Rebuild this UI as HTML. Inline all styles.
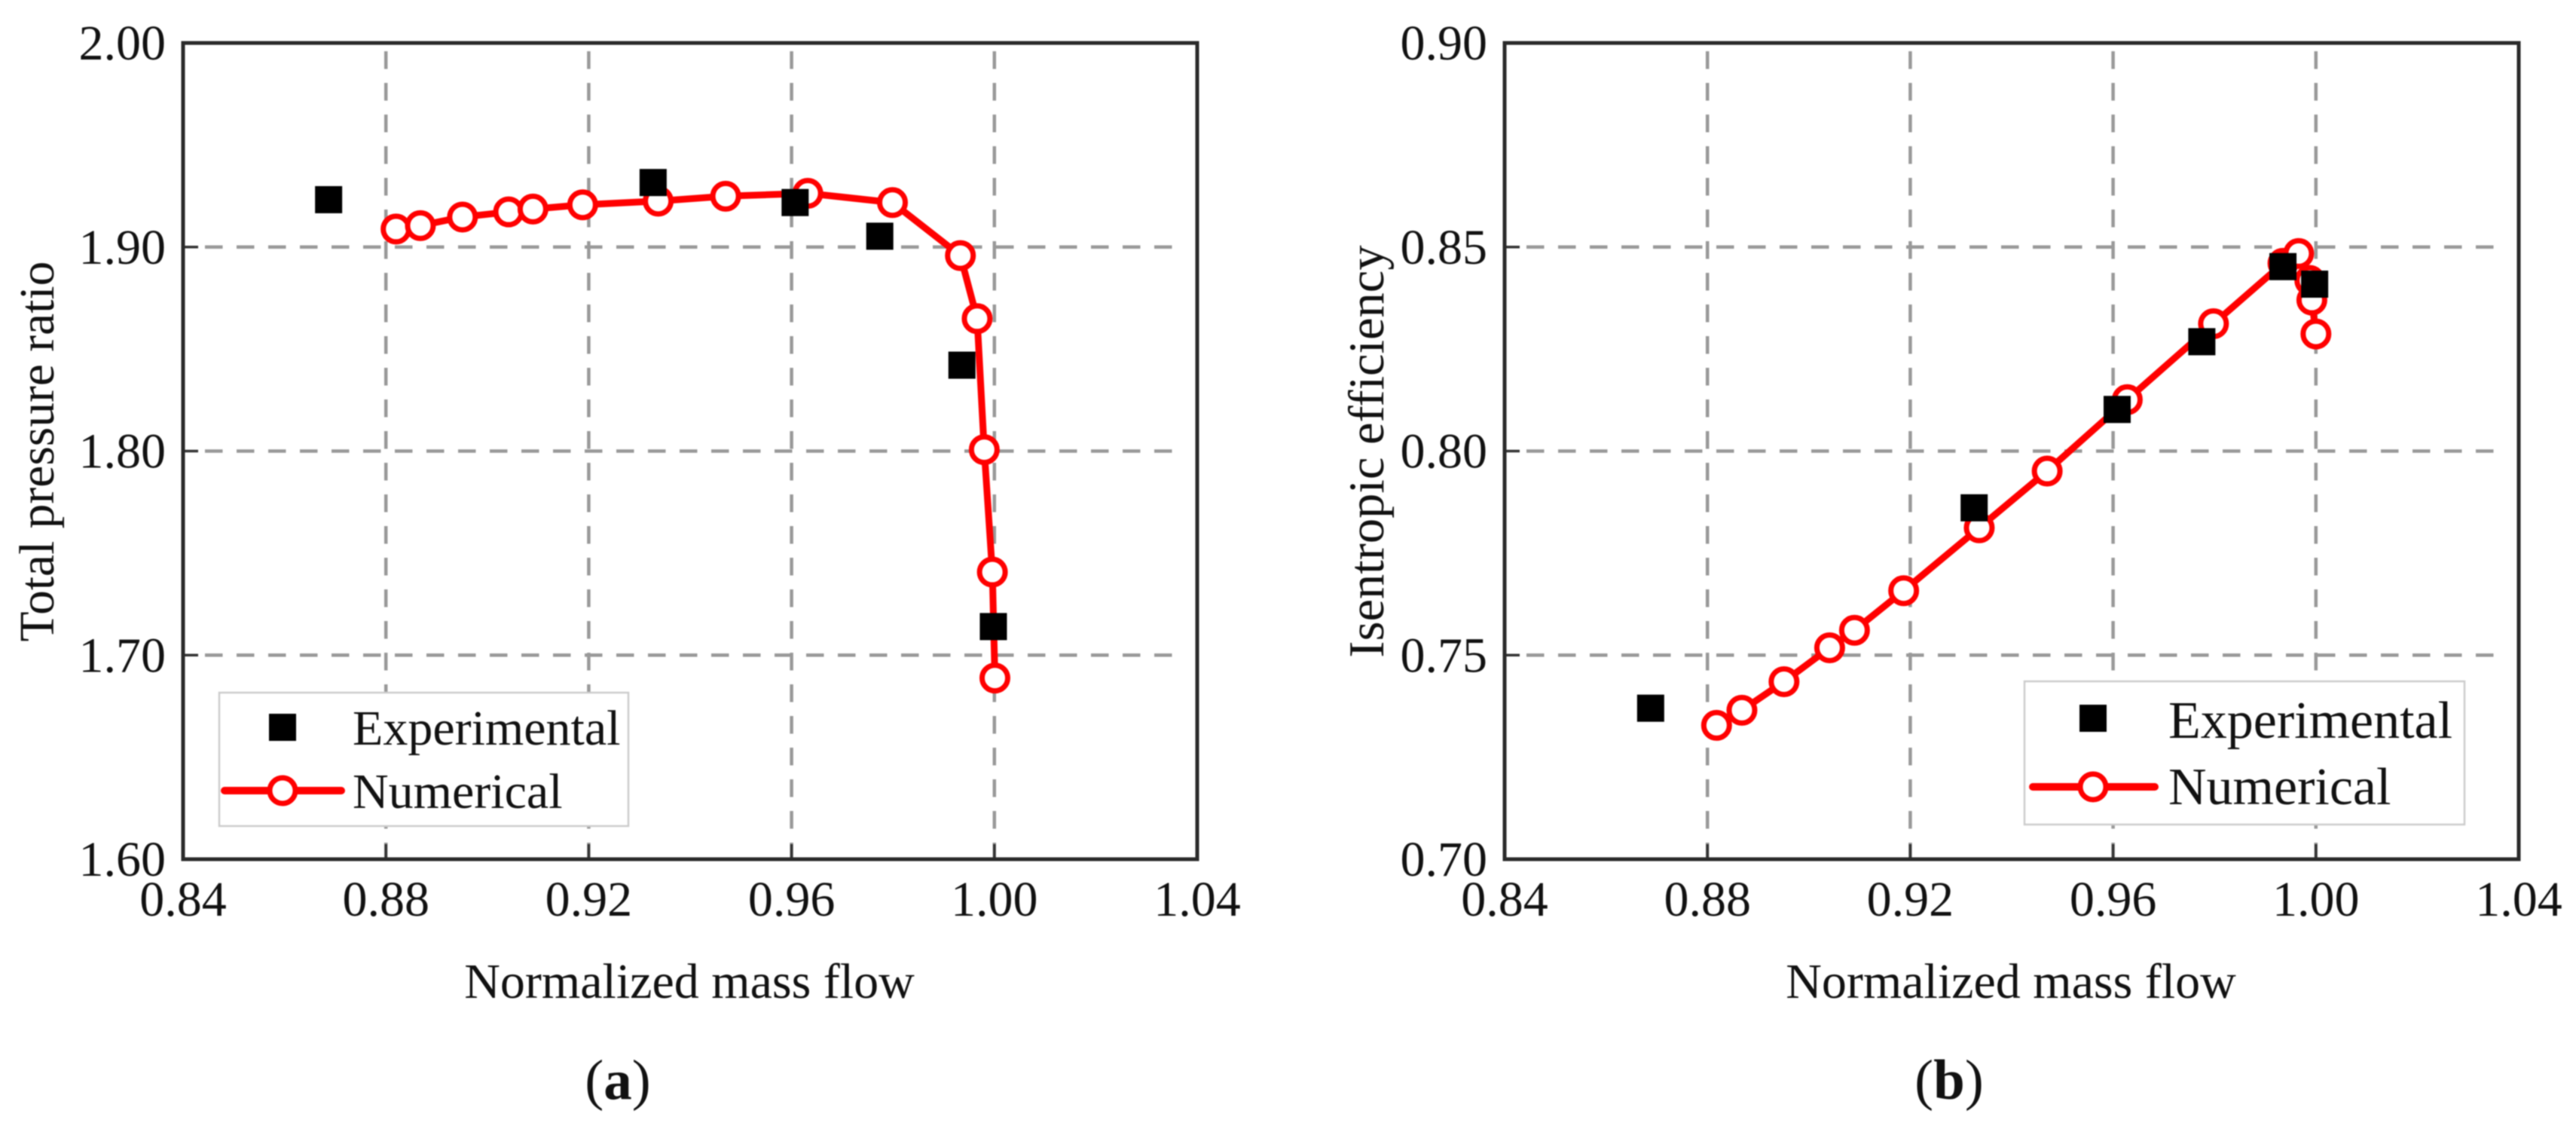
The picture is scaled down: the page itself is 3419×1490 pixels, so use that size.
<!DOCTYPE html>
<html lang="en">
<head>
<meta charset="utf-8">
<title>Compressor performance maps</title>
<style>
html,body{margin:0;padding:0;background:#fff;width:3419px;height:1490px;overflow:hidden}
svg{display:block;font-family:"Liberation Serif",serif;filter:blur(0.7px)}
text{fill:#111}
</style>
</head>
<body>
<svg id="figure" xmlns="http://www.w3.org/2000/svg" width="3419" height="1490" viewBox="0 0 3419 1490"></svg>
<script>
const xTickValues = [0.84, 0.88, 0.92, 0.96, 1.00, 1.04];
const yTicksA = [1.60, 1.70, 1.80, 1.90, 2.00];
const yTicksB = [0.70, 0.75, 0.80, 0.85, 0.90];

const numFlowA = [0.882, 0.8868, 0.8951, 0.9042, 0.909, 0.9188, 0.9337, 0.947, 0.9632, 0.9799, 0.9933, 0.9966, 0.998, 0.9996, 1.0001];
const numPressure = [1.9088, 1.9105, 1.9147, 1.9172, 1.9186, 1.9207, 1.9225, 1.9249, 1.9263, 1.9218, 1.8958, 1.8649, 1.8007, 1.7407, 1.6888];
const expFlowA = [0.8687, 0.9327, 0.9607, 0.9774, 0.9936, 0.9998];
const expPressure = [1.9232, 1.9316, 1.9218, 1.9053, 1.8421, 1.714];

const numFlowB = [0.8818, 0.8868, 0.8951, 0.9041, 0.909, 0.9187, 0.9336, 0.947, 0.9628, 0.9798, 0.9935, 0.9966, 0.9988, 0.9992, 1.0];
const numEfficiency = [0.7328, 0.7365, 0.7435, 0.7518, 0.7561, 0.7658, 0.7812, 0.7951, 0.8126, 0.8312, 0.8460, 0.8484, 0.8418, 0.8370, 0.8287];
const expFlowB = [0.8688, 0.9326, 0.9608, 0.9775, 0.9935, 0.99975];
const expEfficiency = [0.737, 0.7861, 0.8102, 0.8268, 0.8452, 0.8409];

const NS = 'http://www.w3.org/2000/svg';
const root = document.getElementById('figure');

function make(parent, tag, attrs, txt) {
  const el = document.createElementNS(NS, tag);
  for (const k in attrs) el.setAttribute(k, attrs[k]);
  if (txt !== undefined) el.textContent = txt;
  parent.appendChild(el);
  return el;
}

function drawPanel(cfg) {
  const g = make(root, 'g', {});
  
  

  const L = cfg.left, R = cfg.left + 1346, T = 57, B = 1140;
  const xScale = v => L + (v - 0.84) / 0.2 * (R - L);
  const yScale = v => B - (v - cfg.yMin) / (cfg.yMax - cfg.yMin) * (B - T);

  make(g, 'rect', {x: L, y: T, width: R - L, height: B - T, fill: '#fff'});

  xTickValues.slice(1, 5).forEach(v => {
    const line = make(g, 'line', {x1: xScale(v), x2: xScale(v), y1: T + 11, y2: B - 2, stroke: '#999', 'stroke-width': 4.5, 'stroke-dasharray': '23.5 18.5'});
    
    
    const tick = make(g, 'line', {x1: xScale(v), x2: xScale(v), y1: B - 20, y2: B, stroke: '#333', 'stroke-width': 3.5});
    
    
  });
  cfg.yTicks.slice(1, 4).forEach(v => {
    const line = make(g, 'line', {x1: L + 29, x2: R - 16, y1: yScale(v), y2: yScale(v), stroke: '#999', 'stroke-width': 4.5, 'stroke-dasharray': '23.5 18.5'});
    
    
    const tick = make(g, 'line', {x1: L, x2: L + 20, y1: yScale(v), y2: yScale(v), stroke: '#333', 'stroke-width': 3.5});
    
    
  });

  const frame = make(g, 'rect', {x: L, y: T, width: R - L, height: B - T, fill: 'none', stroke: '#2a2a2a', 'stroke-width': 5});
  
  

  xTickValues.forEach(v => {
    const t = make(g, 'text', {x: xScale(v), y: 1215, 'text-anchor': 'middle', 'font-size': 66}, v.toFixed(2));
    
    
  });
  cfg.yTicks.forEach(v => {
    const t = make(g, 'text', {x: L - 23, y: yScale(v) + 22, 'text-anchor': 'end', 'font-size': 66}, v.toFixed(2));
    
    
  });

  const xTitle = make(g, 'text', {x: cfg.left + 672, y: 1324, 'text-anchor': 'middle', 'font-size': 66}, 'Normalized mass flow');
  
  

  const yTitle = make(g, 'text', {transform: 'translate(' + cfg.yTitleX + ',599) rotate(-90)', 'text-anchor': 'middle', 'font-size': cfg.yTitleSize}, cfg.yTitle);
  
  

  const caption = make(g, 'text', {x: cfg.captionX, y: 1458, 'text-anchor': 'middle', 'font-size': 75});
  
  
  make(caption, 'tspan', {}, '(');
  make(caption, 'tspan', {'font-weight': 'bold'}, cfg.captionLetter);
  make(caption, 'tspan', {}, ')');

  const pts = cfg.numX.map((x, i) => xScale(x).toFixed(1) + ',' + yScale(cfg.numY[i]).toFixed(1)).join(' ');
  const line = make(g, 'polyline', {points: pts, fill: 'none', stroke: '#f00', 'stroke-width': 9, 'stroke-linejoin': 'round'});
  
  

  cfg.numX.forEach((x, i) => {
    const c = make(g, 'circle', {cx: xScale(x), cy: yScale(cfg.numY[i]), r: 17, fill: '#fff', stroke: '#f00', 'stroke-width': 7});
    
    
  });
  cfg.expX.forEach((x, i) => {
    const s = make(g, 'rect', {x: xScale(x) - 18, y: yScale(cfg.expY[i]) - 18, width: 36, height: 36, fill: '#000'});
    
    
  });

  const lg = cfg.legend;
  const legend = make(g, 'g', {});
  
  
  make(legend, 'rect', {x: lg.x, y: lg.y, width: lg.w, height: lg.h, fill: '#fff', stroke: '#ccc', 'stroke-width': 2.5});
  const keySq = make(legend, 'rect', {x: lg.keyX - 18, y: lg.y1 - 18, width: 36, height: 36, fill: '#000'});
  
  
  const keyLine = make(legend, 'line', {x1: lg.lineA, x2: lg.lineB, y1: lg.y2, y2: lg.y2, stroke: '#f00', 'stroke-width': 10, 'stroke-linecap': 'round'});
  
  
  const keyC = make(legend, 'circle', {cx: lg.keyX, cy: lg.y2, r: 17, fill: '#fff', stroke: '#f00', 'stroke-width': 7});
  
  
  const t1 = make(legend, 'text', {x: lg.textX, y: lg.b1, 'font-size': lg.size}, 'Experimental');
  
  
  const t2 = make(legend, 'text', {x: lg.textX, y: lg.b2, 'font-size': lg.size}, 'Numerical');
  
  
}

drawPanel({
  id: 'pressure-ratio', left: 243, yMin: 1.6, yMax: 2.0, yTicks: yTicksA,
  yTitle: 'Total pressure ratio', yTitleX: 71, yTitleSize: 65.5,
  captionX: 820, captionLetter: 'a',
  numX: numFlowA, numY: numPressure, expX: expFlowA, expY: expPressure,
  legend: {x: 291, y: 919, w: 543, h: 177, keyX: 375, y1: 965, y2: 1049, lineA: 298, lineB: 453, textX: 468, b1: 988, b2: 1072, size: 66}
});
drawPanel({
  id: 'isentropic-efficiency', left: 1997, yMin: 0.7, yMax: 0.9, yTicks: yTicksB,
  yTitle: 'Isentropic efficiency', yTitleX: 1836, yTitleSize: 66.5,
  captionX: 2587, captionLetter: 'b',
  numX: numFlowB, numY: numEfficiency, expX: expFlowB, expY: expEfficiency,
  legend: {x: 2687, y: 904, w: 584, h: 190, keyX: 2778, y1: 953, y2: 1044, lineA: 2698, lineB: 2860, textX: 2878, b1: 979, b2: 1067, size: 70}
});
</script>
</body>
</html>
